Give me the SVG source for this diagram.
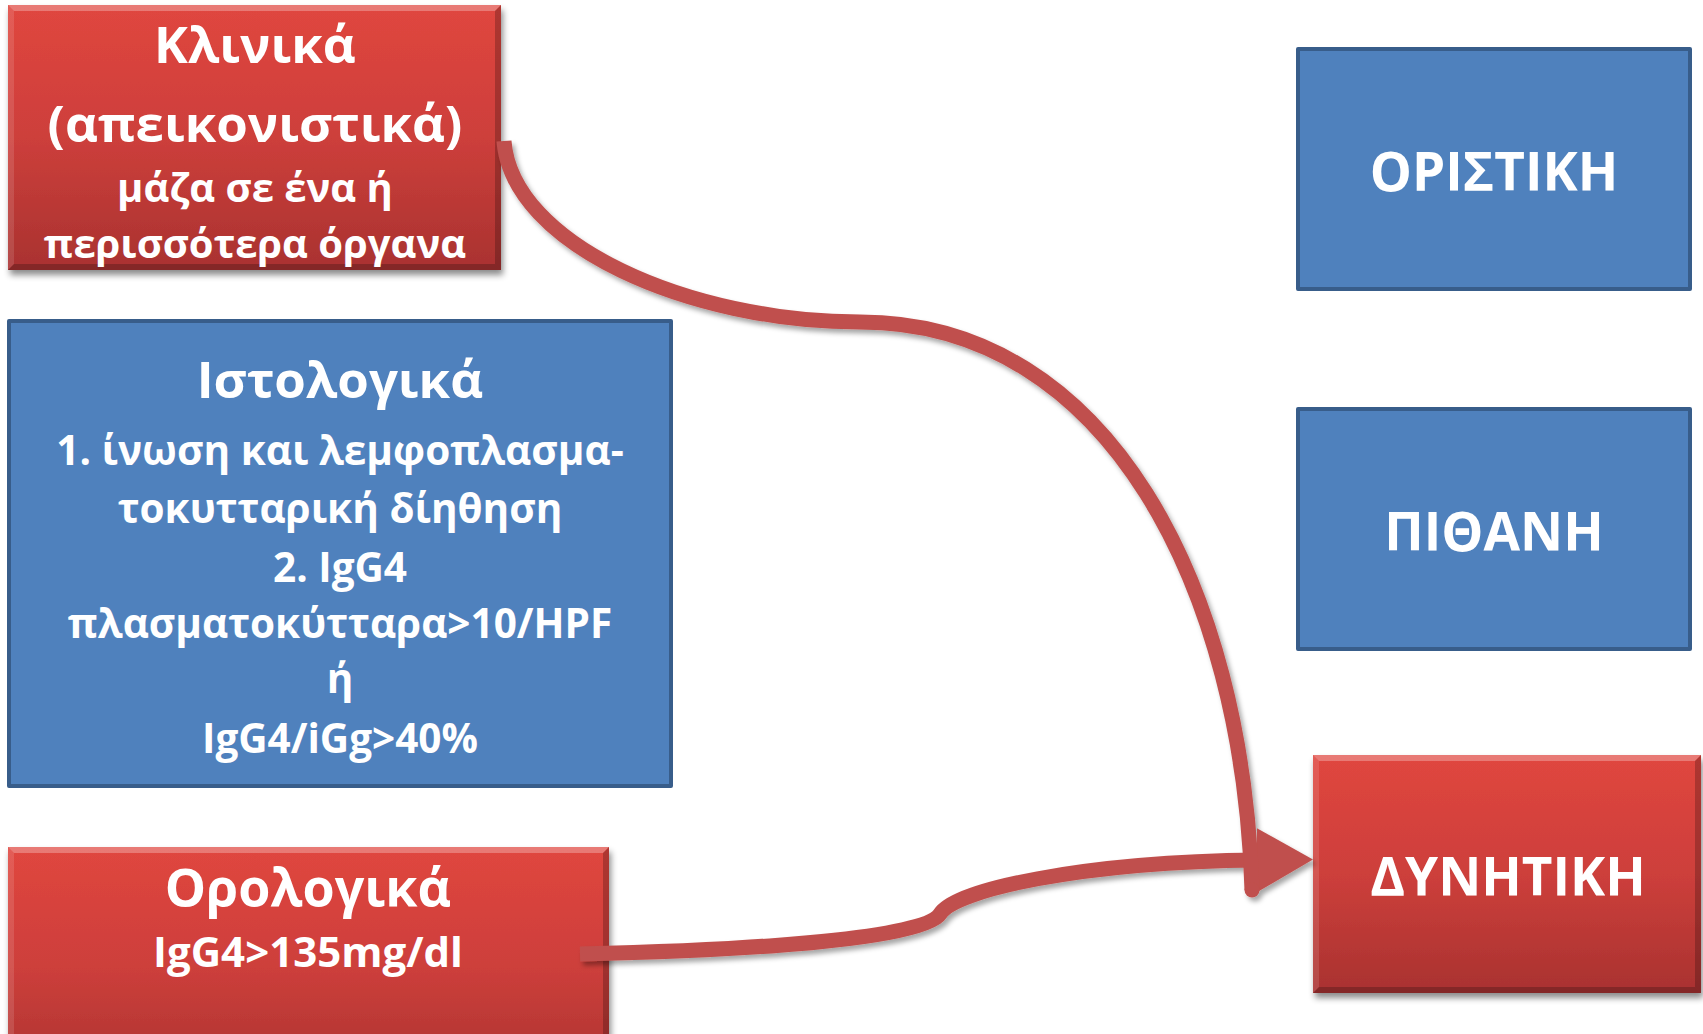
<svg xmlns="http://www.w3.org/2000/svg" width="1703" height="1034" viewBox="0 0 1703 1034">
  <defs>
    <linearGradient id="redFill" x1="0" y1="0" x2="0" y2="1">
      <stop offset="0" stop-color="#E0463F"/>
      <stop offset="0.5" stop-color="#CD3F3B"/>
      <stop offset="1" stop-color="#A93230"/>
    </linearGradient>
    <filter id="boxShadow" x="-5%" y="-5%" width="115%" height="120%">
      <feDropShadow dx="2" dy="5" stdDeviation="3" flood-color="#000" flood-opacity="0.45"/>
    </filter>
    <filter id="lineShadow" x="-10%" y="-10%" width="120%" height="120%">
      <feDropShadow dx="3" dy="4" stdDeviation="2.5" flood-color="#000" flood-opacity="0.35"/>
    </filter>
    <marker id="arrowHead" markerUnits="userSpaceOnUse" viewBox="0 0 56 64" refX="1" refY="32" markerWidth="56" markerHeight="64" orient="auto">
      <path d="M0,0 L56,32 L0,64 z" fill="#C0504D"/>
    </marker>
    <style>
      .red { fill: url(#redFill); }
      .hi { fill: #FFFFFF; opacity: 0.28; }
      .hiSide { fill: #FFFFFF; opacity: 0.12; }
      .lo { fill: #000000; opacity: 0.22; }
      .blue { fill: #4F81BD; stroke: #385D8A; stroke-width: 4; stroke-linejoin: round; }
      .t { fill: #FFFFFF; font-family: "Open Sans", "Noto Sans", "DejaVu Sans", sans-serif; font-weight: 700; text-anchor: middle; }
      .big { font-size: 51px; }
      .mid { font-size: 40.5px; }
      .cap { font-size: 53px; }
      .conn { fill: none; stroke: #C0504D; stroke-width: 15; }
    </style>
  </defs>

  <!-- Clinical (imaging) criteria -->
  <g id="node-klinika">
    <g filter="url(#boxShadow)">
      <rect class="red" x="8" y="5" width="493" height="265"/>
    </g>
    <polygon class="hi" points="8,5 501,5 495,11 14,11"/>
    <polygon class="hiSide" points="8,5 14,11 14,264 8,270"/>
    <polygon class="lo" points="501,5 501,270 495,264 495,11"/>
    <polygon class="lo" points="8,270 501,270 495,264 14,264"/>
    <text class="t big" x="255" y="63">Κλινικά</text>
    <text class="t big" x="255" y="142">(απεικονιστικά)</text>
    <text class="t mid" x="255" y="202" style="font-size:40px">μάζα σε ένα ή</text>
    <text class="t mid" x="255" y="258" style="font-size:40px">περισσότερα όργανα</text>
  </g>

  <!-- Histological criteria -->
  <g id="node-istologika">
    <rect class="blue" x="9" y="321" width="662" height="465"/>
    <text class="t big" x="340" y="398">Ιστολογικά</text>
    <text class="t mid" x="340" y="465">1. ίνωση και λεμφοπλασμα-</text>
    <text class="t mid" x="340" y="523">τοκυτταρική δίηθηση</text>
    <text class="t mid" x="340" y="582">2. IgG4</text>
    <text class="t mid" x="340" y="638">πλασματοκύτταρα&gt;10/HPF</text>
    <text class="t mid" x="340" y="693">ή</text>
    <text class="t mid" x="340" y="753">IgG4/iGg&gt;40%</text>
  </g>

  <!-- Serological criteria -->
  <g id="node-orologika">
    <g filter="url(#boxShadow)">
      <rect class="red" x="8" y="847" width="601" height="240"/>
    </g>
    <polygon class="hi" points="8,847 609,847 603,853 14,853"/>
    <polygon class="hiSide" points="8,847 14,853 14,1087 8,1087"/>
    <polygon class="lo" points="609,847 609,1087 603,1087 603,853"/>
    <text class="t big" x="308" y="906" style="font-size:52px">Ορολογικά</text>
    <text class="t mid" x="308" y="967" style="font-size:42px">IgG4&gt;135mg/dl</text>
  </g>

  <!-- Diagnosis levels -->
  <g id="node-oristiki">
    <rect class="blue" x="1298" y="49" width="392" height="240"/>
    <text class="t cap" x="1494" y="191">ΟΡΙΣΤΙΚΗ</text>
  </g>

  <g id="node-pithani">
    <rect class="blue" x="1298" y="409" width="392" height="240"/>
    <text class="t cap" x="1494" y="551">ΠΙΘΑΝΗ</text>
  </g>

  <g id="node-dynitiki">
    <g filter="url(#boxShadow)">
      <rect class="red" x="1313" y="755" width="388" height="238"/>
    </g>
    <polygon class="hi" points="1313,755 1701,755 1695,761 1319,761"/>
    <polygon class="hiSide" points="1313,755 1319,761 1319,987 1313,993"/>
    <polygon class="lo" points="1701,755 1701,993 1695,987 1695,761"/>
    <polygon class="lo" points="1313,993 1701,993 1695,987 1319,987"/>
    <text class="t cap" x="1508" y="896">ΔΥΝΗΤΙΚΗ</text>
  </g>

  <!-- Connectors -->
  <g id="connectors" filter="url(#lineShadow)">
    <path id="conn-orologika" class="conn" d="M 580 954 C 760 950, 925 938, 940 914 C 955 890, 1080 862, 1258 860" marker-end="url(#arrowHead)"/>
    <path id="conn-klinika" class="conn" d="M 504 141 C 512 245, 690 322, 860 322 C 1110 322, 1243 590, 1252 890"/>
    <circle cx="1252" cy="890" r="7.5" fill="#C0504D"/>
  </g>
</svg>
